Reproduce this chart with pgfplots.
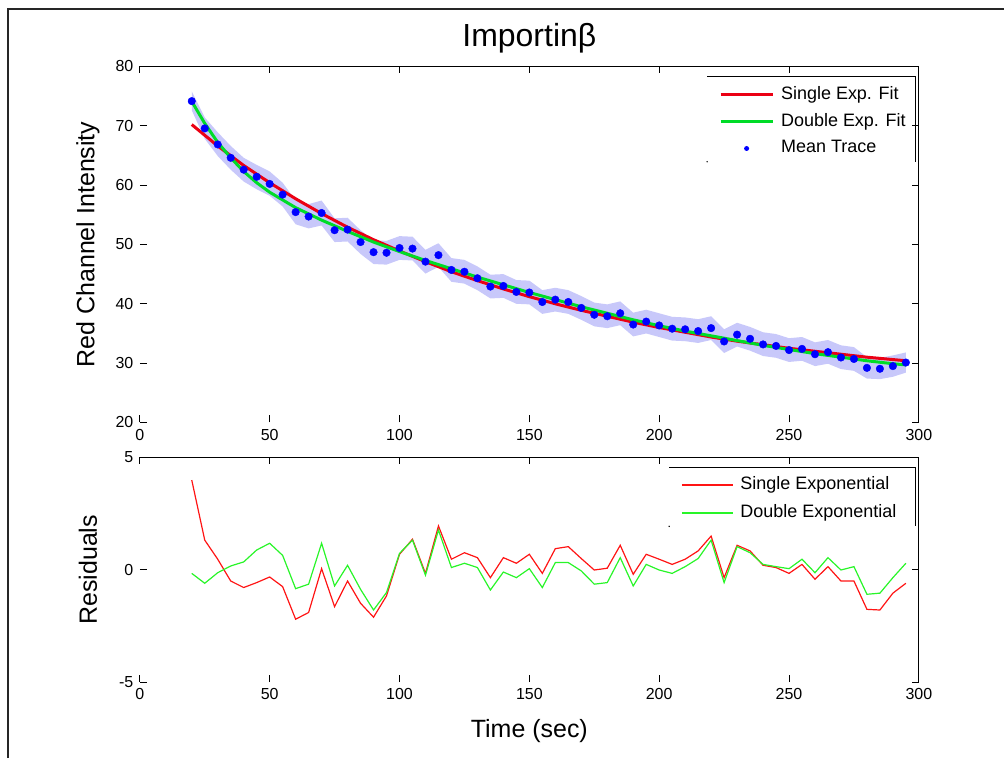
\documentclass[border=0pt]{standalone}
\usepackage{fontspec}
\setmainfont{Liberation Sans}
\usepackage{pgfplots}
\pgfplotsset{compat=1.18}
\usepackage{pgfplotstable}
\usepgfplotslibrary{fillbetween}

\definecolor{band}{RGB}{200,200,250}
\definecolor{fitred}{RGB}{235,0,20}
\definecolor{fitgreen}{RGB}{0,220,40}
\definecolor{resred}{RGB}{255,20,20}
\definecolor{resgreen}{RGB}{40,245,40}

% mean trace with the shaded band
\pgfplotstableread{
t mean lo hi
20 74.15 72.6 75.8
25 69.55 67.8 71.4
30 66.85 64.9 68.9
35 64.6 62.6 66.6
40 62.6 60.6 64.6
45 61.4 59.3 63.4
50 60.2 58.2 62.3
55 58.4 56.4 60.4
60 55.45 53.4 57.4
65 54.7 52.7 56.8
70 55.3 53.2 57.4
75 52.4 50.4 54.4
80 52.5 50.5 54.5
85 50.4 48.4 52.4
90 48.7 46.7 50.7
95 48.6 46.6 50.6
100 49.4 47.4 51.4
105 49.3 47.3 51.3
110 47.1 45.1 49.1
115 48.2 46.2 50.2
120 45.7 43.7 47.7
125 45.4 43.4 47.4
130 44.3 42.3 46.3
135 42.9 40.9 44.9
140 43.0 41.0 45.0
145 42.0 40.0 44.0
150 41.9 39.9 43.9
155 40.3 38.3 42.3
160 40.7 38.7 42.7
165 40.3 38.3 42.3
170 39.3 37.3 41.3
175 38.15 36.2 40.2
180 37.9 35.9 39.9
185 38.4 36.4 40.4
190 36.5 34.5 38.5
195 37.0 35.0 39.0
200 36.35 34.4 38.4
205 35.8 33.8 37.8
210 35.7 33.7 37.7
215 35.4 33.4 37.4
220 35.9 33.9 37.9
225 33.65 31.7 35.7
230 34.8 32.8 36.8
235 34.1 32.1 36.1
240 33.15 31.2 35.2
245 32.9 30.9 34.9
250 32.2 30.2 34.2
255 32.4 30.4 34.4
260 31.5 29.5 33.5
265 31.85 29.9 33.9
270 30.95 29.0 33.0
275 30.7 28.7 32.7
280 29.2 27.4 31.0
285 29.05 27.3 30.9
290 29.5 27.7 31.3
295 30.1 28.4 31.8
}\meantab

\pgfplotstableread{
t f
20 70.2
30 66.6
40 63.3
50 60.4
60 57.7
70 55.2
80 52.9
90 50.8
100 48.9
110 47.1
120 45.4
130 43.9
140 42.5
150 41.2
160 40.0
170 38.9
180 37.9
190 36.9
200 36.0
210 35.2
220 34.4
230 33.7
240 33.1
250 32.5
260 32.0
270 31.5
280 31.0
290 30.6
295 30.4
}\singlefit

\pgfplotstableread{
t f
20 74.1
25 70.4
30 67.2
35 64.6
40 62.3
45 60.4
50 58.8
60 56.2
70 54.1
80 52.2
90 50.4
100 48.8
110 47.3
120 45.9
130 44.5
140 43.2
150 41.9
160 40.7
170 39.5
180 38.4
190 37.3
200 36.3
210 35.4
220 34.6
230 33.8
240 33.0
250 32.3
260 31.6
270 31.0
280 30.4
290 29.9
295 29.7
}\doublefit

\pgfplotstableread{
t s d
20 3.99 -0.16
25 1.32 -0.60
30 0.47 -0.13
35 -0.50 0.17
40 -0.79 0.35
45 -0.57 0.88
50 -0.32 1.18
55 -0.75 0.64
60 -2.20 -0.84
65 -1.90 -0.64
70 0.05 1.18
75 -1.64 -0.72
80 -0.50 0.20
85 -1.49 -0.87
90 -2.11 -1.79
95 -1.16 -1.01
100 0.69 0.73
105 1.36 1.32
110 -0.16 -0.24
115 1.95 1.77
120 0.47 0.10
125 0.76 0.29
130 0.54 0.10
135 -0.35 -0.90
140 0.54 -0.10
145 0.29 -0.35
150 0.69 0.05
155 -0.16 -0.79
160 0.94 0.32
165 1.03 0.32
170 0.50 -0.05
175 -0.01 -0.64
180 0.07 -0.57
185 1.09 0.54
190 -0.20 -0.72
195 0.69 0.24
200 0.47 -0.01
205 0.24 -0.16
210 0.47 0.14
215 0.84 0.50
220 1.50 1.32
225 -0.35 -0.57
230 1.09 1.03
235 0.84 0.76
240 0.20 0.24
245 0.10 0.14
250 -0.16 0.05
255 0.24 0.47
260 -0.42 -0.13
265 0.14 0.54
270 -0.50 -0.01
275 -0.50 0.14
280 -1.76 -1.09
285 -1.79 -1.04
290 -1.04 -0.35
295 -0.60 0.29
}\residuals

\pgfplotsset{
  panel/.style={
    scale only axis, width=780pt,
    xmin=0, xmax=300, xtick={0,50,...,300},
    axis line style={draw=none},
    tick style={black, line width=1pt},
    major tick length=7pt,
    tick label style={font=\fontsize{16}{19}\selectfont},
    xticklabel style={yshift=-3pt},
    yticklabel style={xshift=-3pt},
    /pgf/number format/assume math mode=true,
    label style={font=\fontsize{25}{30}\selectfont},
    ylabel style={at={(axis description cs:-0.0667,0.5)}, anchor=center},
    legend cell align=left,
    legend style={draw=none, fill=none, font=\fontsize{18}{21}\selectfont,
      inner xsep=12pt, inner ysep=10pt, anchor=north west,
      nodes={inner sep=0pt, text height=12pt, text depth=3pt},
      /tikz/every odd column/.append style={column sep=7pt}},
  },
  linelegend/.style={legend image code/.code={\draw[##1] (0pt,0pt) -- (#1,0pt);}},
  dotlegend/.style={legend image code/.code={\path[draw=none, fill=none] (0pt,-1pt) rectangle (52pt,1pt); \path[draw=none, fill=blue] (26pt,0pt) circle (2.5pt);}},
}

\begin{document}
\begin{tikzpicture}
\path (0,0) rectangle (1005pt,759pt);
\draw[line width=2.5pt, black!85] (8pt,0pt) -- (8pt,750pt) -- (1005pt,750pt);

\begin{axis}[panel, at={(140pt,336pt)}, anchor=south west, height=356.5pt,
  ymin=20, ymax=80, ytick={20,30,...,80},
  ylabel={Red Channel Intensity},
  title={Importinβ},
  title style={font=\fontsize{32}{36}\selectfont, at={(axis description cs:0.5,1.01)}, anchor=south},
  legend style={at={(axis description cs:0.728,0.9706)}, row sep=12pt}]
\addplot[draw=none, name path=hi, forget plot] table[x=t, y=hi] {\meantab};
\addplot[draw=none, name path=lo, forget plot] table[x=t, y=lo] {\meantab};
\addplot[fill=band, draw=none, forget plot] fill between[of=hi and lo];
\addplot[fitred, line width=3pt, linelegend=52pt] table[x=t, y=f] {\singlefit};
\addlegendentry{Single Exp. Fit}
\addplot[fitgreen, line width=3pt, linelegend=52pt] table[x=t, y=f] {\doublefit};
\addlegendentry{Double Exp. Fit}
\addplot[only marks, mark=*, mark size=3.8pt, blue, mark options={draw=blue, fill=blue}, dotlegend] table[x=t, y=mean] {\meantab};
\addlegendentry{Mean Trace}
\draw[line width=1.5pt] (rel axis cs:0,1) -- (rel axis cs:1,1) -- (rel axis cs:1,0);
\end{axis}

\begin{axis}[panel, at={(140pt,76pt)}, anchor=south west, height=225pt,
  ymin=-5, ymax=5, ytick={-5,0,5},
  ylabel={Residuals}, xlabel={Time (sec)},
  xlabel style={at={(axis description cs:0.5,-0.218)}, anchor=center},
  legend style={at={(axis description cs:0.6795,0.9556)}, row sep=13pt}]
\addplot[resred, line width=1.2pt, linelegend=51pt] table[x=t, y=s] {\residuals};
\addlegendentry{Single Exponential}
\addplot[resgreen, line width=1.2pt, linelegend=51pt] table[x=t, y=d] {\residuals};
\addlegendentry{Double Exponential}
\draw[line width=1.5pt] (rel axis cs:0,1) -- (rel axis cs:1,1) -- (rel axis cs:1,0);
\end{axis}

% partial legend frames
\draw[line width=1pt] (708pt,682pt) -- (917pt,682pt) -- (917pt,597pt);
\fill (708pt,597pt) circle (0.8pt);
\draw[line width=1pt] (670pt,291pt) -- (917pt,291pt) -- (917pt,232pt);
\fill (670pt,232pt) circle (0.8pt);
\end{tikzpicture}
\end{document}
